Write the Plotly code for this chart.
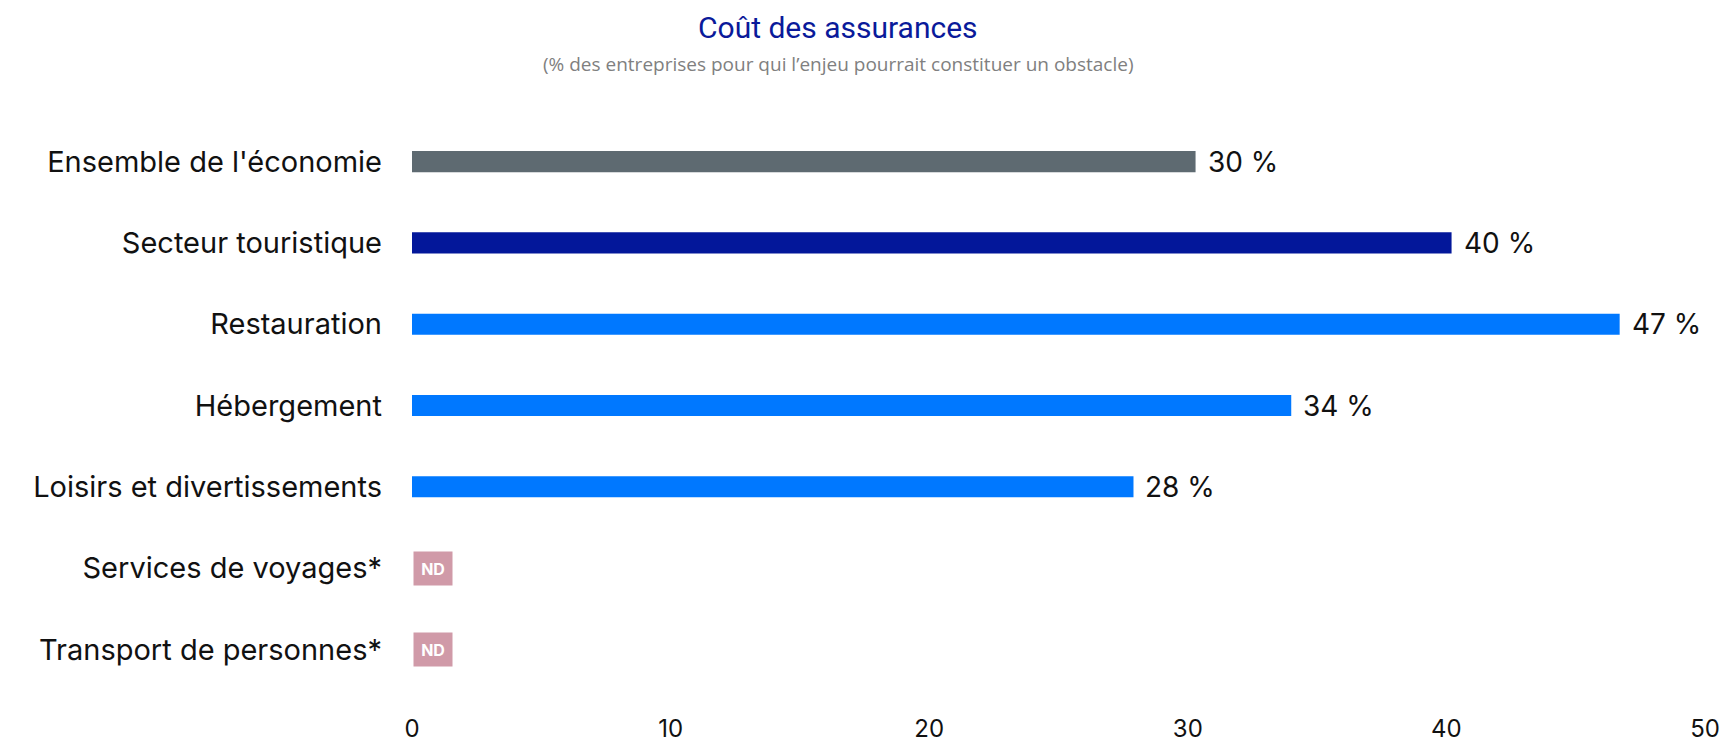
import plotly.graph_objects as go

categories = ["Ensemble de l'économie", "Secteur touristique", "Restauration", "Hébergement",
              "Loisirs et divertissements", "Services de voyages*", "Transport de personnes*"]
values = [30.3, 40.2, 46.7, 34.0, 27.9, None, None]
value_labels = ["30 %", "40 %", "47 %", "34 %", "28 %", None, None]
colors = ["#5e6a71", "#03179a", "#0078ff", "#0078ff", "#0078ff", "#0078ff", "#0078ff"]
nd_categories = ["Services de voyages*", "Transport de personnes*"]
tick_values = [0, 10, 20, 30, 40, 50]

FONT = "Inter, Lato, sans-serif"

W, H = 1721, 736
ML, MR, MT, MB = 404, 24, 113, 54
plot_w = W - ML - MR
plot_h = H - MT - MB

fig = go.Figure()
fig.add_trace(go.Bar(
    y=categories, x=values, orientation="h",
    marker=dict(color=colors, line=dict(width=0)),
    width=0.26, hoverinfo="skip",
))

annotations = []
for cat, v, lab in zip(categories, values, value_labels):
    if v is not None:
        annotations.append(dict(x=v, y=cat, xref="x", yref="y", text=lab,
                                showarrow=False, xanchor="left", xshift=10,
                                font=dict(family=FONT, size=28, color="#111111")))
for cat in nd_categories:
    annotations.append(dict(x=0, y=cat, xref="x", yref="y", text="<b>ND</b>",
                            showarrow=False, xanchor="left", xshift=1,
                            width=36, height=31, bgcolor="#d09aa8",
                            font=dict(family=FONT, size=16, color="white")))

title_x = (830 - ML) / plot_w
annotations.append(dict(x=title_x, y=(H - MB - 20) / plot_h, xref="paper", yref="paper",
                        text="Coût des assurances", showarrow=False,
                        xanchor="center", yanchor="middle",
                        font=dict(family="Roboto, sans-serif", size=30, color="#0a1a9a")))
annotations.append(dict(x=title_x, y=(H - MB - 56) / plot_h, xref="paper", yref="paper",
                        text="(% des entreprises pour qui l’enjeu pourrait constituer un obstacle)",
                        showarrow=False, xanchor="center", yanchor="middle",
                        font=dict(family="Open Sans, sans-serif", size=19, color="#808080")))

fig.update_layout(
    width=W, height=H,
    margin=dict(l=ML, r=MR, t=MT, b=MB),
    paper_bgcolor="white", plot_bgcolor="white",
    showlegend=False,
    annotations=annotations,
    font=dict(family=FONT, size=28, color="#111111"),
    xaxis=dict(range=[0, 50], tickvals=tick_values, showgrid=False, zeroline=False,
               showline=False, ticklabelstandoff=22, automargin=False,
               tickfont=dict(family=FONT, size=24, color="#111111")),
    yaxis=dict(categoryorder="array", categoryarray=categories, autorange=False,
               range=[6.5, -0.5], showgrid=False, zeroline=False, showline=False,
               ticklabelstandoff=29, automargin=False,
               tickfont=dict(family=FONT, size=29, color="#111111")),
)

fig.write_html("out.html")
